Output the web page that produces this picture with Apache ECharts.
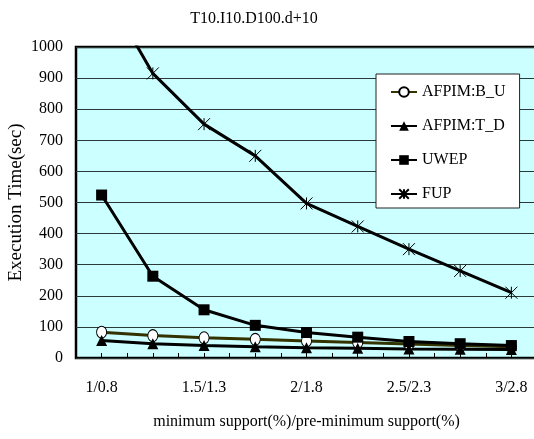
<!DOCTYPE html>
<html>
<head>
<meta charset="utf-8">
<script src="https://cdn.jsdelivr.net/npm/echarts@6/dist/echarts.min.js"></script>
<style>
  html, body { margin: 0; padding: 0; background: #fff; }
  #chart { width: 534px; height: 439px; }
</style>
</head>
<body>
<div id="chart"></div>
<script>
// x categories (only every other one is labelled in the figure)
const categories = ['1/0.8', '1.25/1.05', '1.5/1.3', '1.75/1.55', '2/1.8', '2.25/2.05', '2.5/2.3', '2.75/2.55', '3/2.8'];

// execution time (sec)
const afpimBU = [83, 72, 65, 60, 55, 50, 45, 40, 36];
const afpimTD = [56, 46, 40, 36, 33, 31, 29, 28, 27];
const uwep = [524, 263, 155, 105, 82, 67, 53, 46, 40];
const fup = [1200, 915, 752, 650, 497, 423, 350, 280, 210];

const font = 'Liberation Serif, Times New Roman, serif';
const star = 'path://M0,0L10,10M10,0L0,10M5,0L5,10';

const chart = echarts.init(document.getElementById('chart'), null, { renderer: 'canvas' });

chart.setOption({
  animation: false,
  backgroundColor: '#fff',
  textStyle: { fontFamily: font, color: '#000' },
  title: {
    text: 'T10.I10.D100.d+10',
    left: 249,
    textAlign: 'center',
    top: 6,
    textStyle: { fontFamily: font, fontSize: 16, fontWeight: 'normal', color: '#000' }
  },
  grid: {
    left: 76,
    right: -3,
    top: 47,
    bottom: 81,
    outerBoundsMode: 'none',
    containLabel: false,
    show: true,
    backgroundColor: '#ccffff',
    borderColor: '#000',
    borderWidth: 2.5
  },
  legend: {
    orient: 'vertical',
    left: 376,
    top: 74,
    padding: [10, 14, 6, 14],
    itemGap: 18,
    itemWidth: 26,
    itemHeight: 12,
    backgroundColor: '#fff',
    borderColor: '#222',
    borderWidth: 1,
    textStyle: { fontFamily: font, fontSize: 16, color: '#000' },
    data: ['AFPIM:B_U', 'AFPIM:T_D', 'UWEP', 'FUP']
  },
  xAxis: [
    {
      type: 'category',
      data: categories,
      boundaryGap: true,
      name: 'minimum support(%)/pre-minimum support(%)',
      nameLocation: 'middle',
      nameGap: 56,
      nameMoveOverlap: false,
      nameTextStyle: { fontFamily: font, fontSize: 16, color: '#000' },
      axisLine: { show: false },
      axisTick: { show: true, inside: true, alignWithLabel: true, interval: 0, length: 5, lineStyle: { color: '#000', width: 1 } },
      axisLabel: { interval: 1, margin: 22, fontFamily: font, fontSize: 16, color: '#000' }
    },
    {
      // second copy only for the in-between ticks
      type: 'category',
      data: categories,
      boundaryGap: true,
      position: 'bottom',
      axisLine: { show: false },
      axisTick: { show: true, inside: true, interval: 0, length: 5, lineStyle: { color: '#000', width: 1 } },
      axisLabel: { show: false }
    }
  ],
  yAxis: {
    type: 'value',
    min: 0,
    max: 1000,
    interval: 100,
    name: 'Execution Time(sec)',
    nameLocation: 'middle',
    nameGap: 50,
    nameMoveOverlap: false,
    nameTextStyle: { fontFamily: font, fontSize: 19, color: '#000' },
    axisLine: { show: false },
    axisTick: { show: false },
    axisLabel: { margin: 13, fontFamily: font, fontSize: 16, color: '#000', formatter: v => String(v) },
    splitLine: { lineStyle: { color: '#2b3838', width: 1 } }
  },
  series: [
    {
      name: 'AFPIM:B_U',
      type: 'line',
      data: afpimBU,
      symbol: 'circle',
      symbolSize: [10, 12],
      lineStyle: { color: '#333300', width: 3 },
      itemStyle: { color: '#fff', borderColor: '#000', borderWidth: 1 }
    },
    {
      name: 'AFPIM:T_D',
      type: 'line',
      data: afpimTD,
      symbol: 'triangle',
      symbolSize: 11,
      lineStyle: { color: '#000', width: 3 },
      itemStyle: { color: '#000' }
    },
    {
      name: 'UWEP',
      type: 'line',
      data: uwep,
      symbol: 'rect',
      symbolSize: 11,
      lineStyle: { color: '#000', width: 3 },
      itemStyle: { color: '#000' }
    },
    {
      name: 'FUP',
      type: 'line',
      data: fup,
      symbol: star,
      symbolSize: 12,
      clip: true,
      lineStyle: { color: '#000', width: 3 },
      itemStyle: { color: 'transparent', borderColor: '#000', borderWidth: 1 }
    }
  ]
});
</script>
</body>
</html>
